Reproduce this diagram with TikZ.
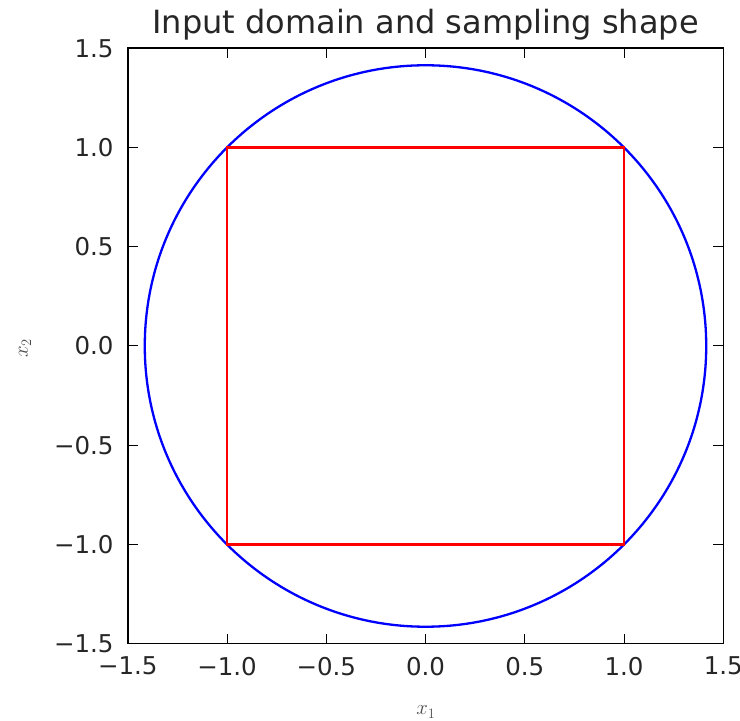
\documentclass[tikz,border=0pt]{standalone}
\usepackage{fontspec}
\setmainfont{DejaVu Sans}
\begin{document}
\begin{tikzpicture}[x=1pt,y=1pt,
  ticklab/.style={font=\fontsize{24.5}{26}\selectfont, text=black!85, inner sep=0pt},
  titlelab/.style={font=\fontsize{32}{34}\selectfont, text=black!85, inner sep=0pt},
  axlab/.style={font=\fontsize{21}{22}\selectfont, text=black!70, inner sep=0pt},
  tickline/.style={line width=1pt, black},
  framebox/.style={line width=1.5pt, black},
  circ/.style={line width=2.3pt, blue},
  sq/.style={line width=2.3pt, red}]
\useasboundingbox (0,0) rectangle (740,721);
\node[titlelab, anchor=base] (title) at (425.5,687) {Input domain and sampling shape};
\begin{scope}[shift={(425.5,375)}, x=198.5pt, y=198.5pt]
  \coordinate (ll) at (-1.5,-1.5);
  \coordinate (ur) at (1.5,1.5);
  \node[circle, draw=none, minimum size=0pt] (c0) at (0,0) {};
  \draw[circ] (c0.center) circle[radius=1.41421];
  \draw[sq] (-1,-1) rectangle (1,1);
  \foreach \v in {-1,-0.5,0,0.5,1} {
    \draw[tickline] (\v,-1.5) -- ++(0,10pt);
    \draw[tickline] (\v,1.5) -- ++(0,-10pt);
    \draw[tickline] (-1.5,\v) -- ++(10pt,0);
    \draw[tickline] (1.5,\v) -- ++(-10pt,0);
  }
  \foreach \v/\t/\n in {-1.5/{−1.5}/a,-1/{−1.0}/b,-0.5/{−0.5}/c,0/{0.0}/d,0.5/{0.5}/e,1/{1.0}/f,1.5/{1.5}/g} {
    \node[ticklab, anchor=north] (xt\n) at ([yshift=-13pt]\v,-1.5) {\t};
    \node[ticklab, anchor=east] (yt\n) at ([xshift=-14pt]-1.5,\v) {\t};
  }
  \draw[framebox] (ll) rectangle (ur);
\end{scope}
\node[axlab, anchor=base] (xl) at (426,6) {$x_1$};
\node[axlab, anchor=center, rotate=90] (yl) at (25,373) {$x_2$};
\end{tikzpicture}
\end{document}
